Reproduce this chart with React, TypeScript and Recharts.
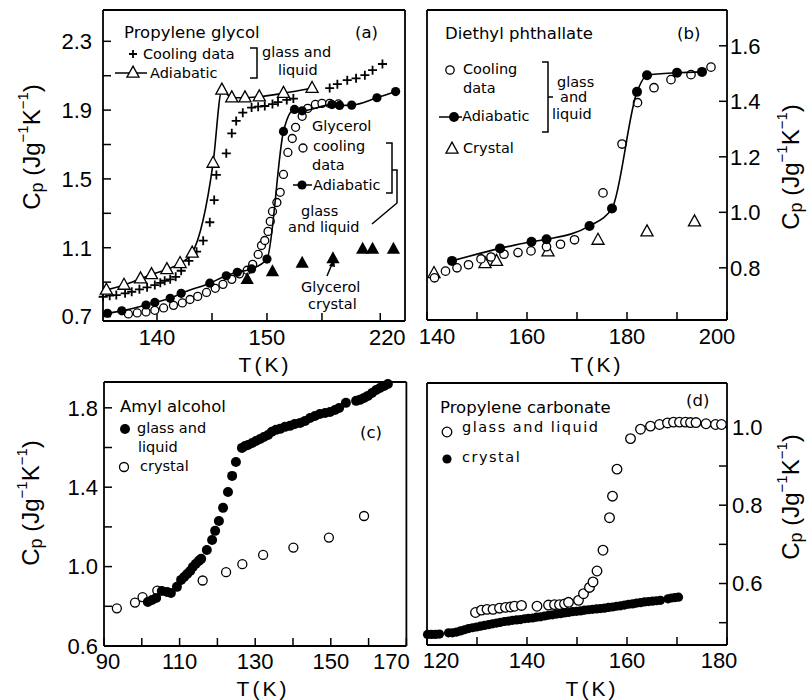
import React from 'react';
import { ComposedChart, Scatter, XAxis, YAxis } from 'recharts';

const FONT = '"DejaVu Sans", sans-serif';
const NUM_FONT = '"Liberation Sans", Arial, sans-serif';

// (a) propylene glycol + glycerol, x in the figure's own axis units
const PG_COOLING = [
  [135.1, 0.815], [135.7, 0.821], [136.3, 0.825], [137.1, 0.835], [137.7, 0.844], [138.4, 0.858],
  [139.1, 0.87], [139.8, 0.883], [140.3, 0.896], [140.7, 0.908], [141.2, 0.916], [141.7, 0.931],
  [142.2, 0.966], [142.9, 1.023], [143.6, 1.077], [144.2, 1.141], [144.8, 1.248], [145.2, 1.377],
  [145.4, 1.523], [146.3, 1.649], [146.8, 1.765], [147.2, 1.837], [147.8, 1.885], [148.6, 1.915],
  [149.2, 1.92], [149.8, 1.924], [150.5, 1.935], [151.0, 1.947], [151.8, 1.959], [152.4, 1.967],
  [155.7, 2.028], [156.4, 2.051], [157.3, 2.074], [158.1, 2.085], [158.9, 2.103], [159.6, 2.132],
  [160.5, 2.168],
];
const PG_ADIABATIC = [
  [135.4, 0.854], [137.0, 0.883], [138.5, 0.92], [139.5, 0.945], [140.9, 0.974], [142.1, 1.009],
  [143.2, 1.07], [145.1, 1.592], [145.9, 2.017], [146.8, 1.972], [148.0, 1.972], [149.3, 1.978],
  [151.5, 1.998], [154.1, 2.027],
];
const GLY_COOLING = [
  [137.4, 0.715], [138.2, 0.721], [139.0, 0.727], [139.8, 0.736], [140.6, 0.75], [141.5, 0.765],
  [142.3, 0.779], [143.0, 0.799], [143.7, 0.817], [144.5, 0.84], [145.3, 0.864], [146.0, 0.887],
  [146.8, 0.916], [147.5, 0.948], [148.2, 0.969], [148.7, 1.003], [149.2, 1.061], [149.5, 1.113],
  [149.8, 1.142], [150.1, 1.195], [150.3, 1.253], [150.5, 1.311], [150.9, 1.363], [151.2, 1.422],
  [151.5, 1.526], [151.9, 1.654], [152.3, 1.735], [152.6, 1.8], [153.2, 1.864], [153.7, 1.91],
  [154.4, 1.933], [155.0, 1.939], [155.7, 1.939], [156.5, 1.936],
];
const GLY_ADIABATIC = [
  [135.5, 0.719], [136.8, 0.733], [139.0, 0.767], [139.8, 0.782], [141.2, 0.806], [142.2, 0.835],
  [144.8, 0.894], [146.3, 0.937], [147.3, 0.957], [148.6, 0.977], [150.0, 1.034], [151.5, 1.776],
  [152.5, 1.904], [153.2, 1.896], [155.9, 1.932], [156.6, 1.927], [157.7, 1.929], [160.0, 1.972],
  [161.7, 2.008],
];
const GLY_CRYSTAL = [
  [148.2, 0.916], [150.5, 0.961], [153.2, 1.01], [156.0, 1.036], [158.7, 1.092], [159.6, 1.092],
  [161.5, 1.092],
];
const A_XTICKS = [140, 145, 150, 155, 160.3];
const A_XLABELS: Record<string, string> = { '140': '140', '150': '150', '160.3': '220' };
const A_YTICKS = [0.7, 0.9, 1.1, 1.3, 1.5, 1.7, 1.9, 2.1, 2.3];
const A_YLABELS = [0.7, 1.1, 1.5, 1.9, 2.3];

// (b) diethyl phthallate
const DEP_COOLING = [
  [141.5, 0.764], [143.7, 0.788], [146.0, 0.8], [148.3, 0.811], [150.8, 0.832], [152.8, 0.839],
  [155.4, 0.849], [158.2, 0.855], [160.8, 0.861], [163.9, 0.876], [166.7, 0.885], [169.5, 0.901],
  [175.2, 1.07], [179.0, 1.246], [182.1, 1.395], [185.4, 1.449], [188.8, 1.478], [192.8, 1.496],
  [196.8, 1.523],
];
const DEP_ADIABATIC = [
  [145.0, 0.825], [154.6, 0.87], [160.9, 0.894], [163.9, 0.903], [172.5, 0.951], [177.0, 1.014],
  [182.0, 1.434], [184.0, 1.494], [190.0, 1.503], [195.0, 1.506],
];
const DEP_CRYSTAL = [
  [141.4, 0.78], [151.6, 0.816], [153.9, 0.824], [164.2, 0.858], [174.2, 0.9], [184.0, 0.93],
  [193.5, 0.966],
];
const B_XTICKS = [140, 150, 160, 170, 180, 190, 200];
const B_XLABELS = [140, 160, 180, 200];
const B_YTICKS = [0.8, 1.0, 1.2, 1.4, 1.6];

// (c) amyl alcohol
const AA_LIQUID = [
  [101.6, 0.822], [102.7, 0.832], [103.8, 0.842], [105.3, 0.877], [106.7, 0.872], [107.7, 0.867],
  [109.3, 0.898], [110.4, 0.933], [111.2, 0.948], [112.0, 0.963], [112.8, 0.978], [113.5, 0.998],
  [114.3, 1.014], [115.1, 1.029], [115.7, 1.039], [117.2, 1.084], [118.6, 1.134], [119.4, 1.18],
  [120.4, 1.23], [121.5, 1.296], [122.8, 1.376], [123.9, 1.457], [124.9, 1.527], [126.5, 1.598],
  [127.3, 1.608], [128.1, 1.613], [129.2, 1.623], [130.2, 1.633], [131.3, 1.643], [132.3, 1.653],
  [133.4, 1.663], [134.4, 1.679], [135.5, 1.689], [136.6, 1.694], [137.9, 1.704], [139.2, 1.709],
  [140.5, 1.719], [141.9, 1.724], [143.2, 1.734], [144.5, 1.749], [145.8, 1.759], [147.1, 1.769],
  [148.5, 1.774], [149.8, 1.779], [151.1, 1.789], [152.2, 1.799], [154.0, 1.825], [156.7, 1.835],
  [157.7, 1.84], [158.8, 1.85], [159.8, 1.86], [160.9, 1.875], [162.0, 1.89], [163.0, 1.9],
  [164.1, 1.91], [165.1, 1.92],
];
const AA_CRYSTAL = [
  [93.4, 0.79], [98.2, 0.819], [100.2, 0.846], [104.1, 0.879], [116.1, 0.93], [122.3, 0.972],
  [126.6, 1.012], [132.1, 1.059], [140.1, 1.096], [149.5, 1.146], [158.8, 1.255],
];
const C_XTICKS = [90, 100, 110, 120, 130, 140, 150, 160, 170];
const C_XLABELS = [90, 110, 130, 150, 170];
const C_YTICKS = [0.6, 0.8, 1.0, 1.2, 1.4, 1.6, 1.8];
const C_YLABELS = [0.6, 1.0, 1.4, 1.8];

// (d) propylene carbonate
const PC_LIQUID = [
  [129.7, 0.526], [130.9, 0.532], [132.0, 0.534], [133.2, 0.534], [134.5, 0.537], [135.7, 0.539],
  [136.7, 0.54], [137.5, 0.542], [138.9, 0.544], [142.0, 0.542], [144.3, 0.545], [145.5, 0.546],
  [146.5, 0.546], [147.5, 0.548], [148.3, 0.552], [150.3, 0.557], [151.3, 0.574], [152.5, 0.59],
  [153.2, 0.604], [154.0, 0.632], [155.2, 0.685], [156.5, 0.768], [157.1, 0.823], [158.0, 0.892],
  [160.7, 0.97], [162.7, 0.994], [164.7, 1.002], [166.5, 1.006], [168.1, 1.01], [169.3, 1.012],
  [170.5, 1.012], [171.7, 1.012], [172.7, 1.011], [173.8, 1.011], [175.8, 1.008], [177.7, 1.006],
  [178.9, 1.006],
];
const PC_CRYSTAL = [
  [120.1, 0.47], [120.9, 0.47], [121.7, 0.47], [122.5, 0.471], [124.3, 0.474], [125.1, 0.474],
  [125.9, 0.476], [126.7, 0.479], [127.5, 0.482], [128.3, 0.485], [129.1, 0.487], [129.9, 0.489],
  [130.7, 0.491], [131.5, 0.493], [132.3, 0.495], [133.1, 0.497], [133.9, 0.499], [134.7, 0.501],
  [135.5, 0.503], [136.3, 0.504], [137.1, 0.506], [137.9, 0.507], [138.7, 0.508], [139.5, 0.51],
  [140.3, 0.511], [141.1, 0.512], [141.9, 0.514], [142.7, 0.515], [143.5, 0.517], [144.3, 0.519],
  [145.1, 0.52], [145.9, 0.522], [146.7, 0.523], [147.5, 0.525], [148.3, 0.526], [149.1, 0.528],
  [149.9, 0.529], [150.7, 0.53], [151.5, 0.532], [152.3, 0.533], [153.1, 0.534], [153.9, 0.535],
  [154.7, 0.536], [155.5, 0.537], [156.3, 0.539], [157.1, 0.54], [157.9, 0.542], [158.7, 0.543],
  [159.5, 0.545], [160.3, 0.547], [161.1, 0.548], [161.9, 0.55], [162.7, 0.551], [163.5, 0.553],
  [164.3, 0.554], [165.1, 0.555], [165.9, 0.556], [166.7, 0.557], [168.2, 0.561], [168.9, 0.563],
  [169.6, 0.564], [170.3, 0.565],
];
const D_XTICKS = [120, 130, 140, 150, 160, 170, 180];
const D_XLABELS = [120, 140, 160, 180];
const D_YTICKS = [0.5, 0.6, 0.7, 0.8, 0.9, 1.0];
const D_YLABELS = [0.6, 0.8, 1.0];

const pts = (a: number[][]) => a.map(([t, cp]) => ({ t, cp }));
const near = (list: number[], v: number) => list.some((l) => Math.abs(l - v) < 1e-6);

type P = { cx?: number; cy?: number };
const openCircle = (r: number) => (p: P) => (
  <circle cx={p.cx} cy={p.cy} r={r} fill="#fff" stroke="#000" strokeWidth={1.3} />
);
const dot = (r: number) => (p: P) => <circle cx={p.cx} cy={p.cy} r={r} fill="#000" />;
const triPath = (x: number, y: number, s: number) =>
  `M${x},${y - s * 0.62} L${x + s * 0.55},${y + s * 0.38} L${x - s * 0.55},${y + s * 0.38} Z`;
const openTri = (s: number) => (p: P) => (
  <path d={triPath(p.cx ?? 0, p.cy ?? 0, s)} fill="#fff" stroke="#000" strokeWidth={1.3} />
);
const fillTri = (s: number) => (p: P) => <path d={triPath(p.cx ?? 0, p.cy ?? 0, s)} fill="#000" />;
const plus = (s: number) => (p: P) => (
  <path
    d={`M${(p.cx ?? 0) - s},${p.cy} H${(p.cx ?? 0) + s} M${p.cx},${(p.cy ?? 0) - s} V${(p.cy ?? 0) + s}`}
    stroke="#000"
    strokeWidth={1.8}
  />
);

const AX = { stroke: '#000', strokeWidth: 1.8 };
const TL = { stroke: '#000', strokeWidth: 1.5 };
const TICK = { fill: '#000', fontSize: 22, fontFamily: NUM_FONT };
const CURVE = { stroke: '#000', strokeWidth: 1.6 };

// bottom tick label, nudged inward where the reference shifts it
function XTick(props: any) {
  const { x, y, payload, fmt, nudge } = props;
  const label = fmt(payload.value);
  if (!label) return null;
  const dx = nudge[label] ?? 0;
  return (
    <text x={x + dx} y={y} dy="0.72em" textAnchor="middle" fontSize={22} fontFamily={NUM_FONT} fill="#000">
      {label}
    </text>
  );
}

interface PanelProps {
  box: [number, number, number, number];
  xDomain: [number, number];
  xTicks: number[];
  xFmt: (v: number) => string;
  nudge: Record<string, number>;
  xGap: number;
  yDomain: [number, number];
  yTicks: number[];
  yFmt: (v: number) => string;
  yGap: number;
  ySide: 'left' | 'right';
  children: React.ReactNode;
}

function Panel({ box, xDomain, xTicks, xFmt, nudge, xGap, yDomain, yTicks, yFmt, yGap, ySide, children }: PanelProps) {
  const [x0, y0, x1, y1] = box;
  const w = x1 - x0 + 120;
  const h = y1 - y0 + 50;
  return (
    <div style={{ position: 'absolute', left: x0 - 60, top: y0 - 10 }}>
      <ComposedChart width={w} height={h} margin={{ top: 5, right: 10, bottom: 10, left: 10 }}>
        <XAxis xAxisId="b" type="number" dataKey="t" domain={xDomain} ticks={xTicks} interval={0}
          tickSize={-8} tickMargin={xGap + 8} height={30} axisLine={AX} tickLine={TL}
          tick={(p: any) => <XTick {...p} fmt={xFmt} nudge={nudge} />} />
        <XAxis xAxisId="t" orientation="top" type="number" domain={xDomain} ticks={xTicks} interval={0}
          tickFormatter={() => ''} tickSize={-8} height={5} axisLine={AX} tickLine={TL} tick={TICK} />
        <YAxis yAxisId="y" orientation={ySide} type="number" dataKey="cp" domain={yDomain} ticks={yTicks}
          interval={0} tickFormatter={yFmt} tickSize={-8} tickMargin={yGap + 8} width={50}
          axisLine={AX} tickLine={TL} tick={TICK} />
        <YAxis yAxisId="y2" orientation={ySide === 'left' ? 'right' : 'left'} type="number" domain={yDomain}
          ticks={yTicks} interval={0} tickFormatter={() => ''} tickSize={-8} width={50}
          axisLine={AX} tickLine={TL} tick={TICK} />
        {children}
      </ComposedChart>
    </div>
  );
}

function Txt({ x, y, children, size = 14.5, ls = 0 }: { x: number; y: number; children: React.ReactNode; size?: number; ls?: number }) {
  return (
    <text x={x} y={y} fontSize={size} letterSpacing={ls} dominantBaseline="central" fill="#000">
      {children}
    </text>
  );
}

function CpTitle({ x, y }: { x: number; y: number }) {
  return (
    <text transform={`translate(${x},${y}) rotate(-90)`} textAnchor="middle" fontSize={24}
      fontFamily={NUM_FONT} dominantBaseline="central" fill="#000">
      C<tspan fontSize={18} dy={6}>p</tspan>
      <tspan dy={-6}> (Jg</tspan>
      <tspan fontSize={15} dy={-9}>−1</tspan>
      <tspan dy={9}>K</tspan>
      <tspan fontSize={15} dy={-9}>−1</tspan>
      <tspan dy={9}>)</tspan>
    </text>
  );
}

function TK({ x, y }: { x: number; y: number }) {
  return (
    <text x={x} y={y} textAnchor="middle" fontSize={21} fontFamily={NUM_FONT} letterSpacing={3}
      dominantBaseline="central" fill="#000">
      T(K)
    </text>
  );
}

const fmtList = (list: number[], digits: number) => (v: number) => (near(list, v) ? v.toFixed(digits) : '');

export default function App() {
  const s = { isAnimationActive: false, xAxisId: 'b', yAxisId: 'y' } as const;
  return (
    <div style={{ position: 'absolute', left: 0, top: 0, width: 808, height: 700, background: '#fff', fontFamily: FONT }}>
      <Panel box={[103, 10, 405, 321]} xDomain={[135.09, 162.55]} xTicks={A_XTICKS}
        xFmt={(v) => A_XLABELS[String(v)] ?? ''} nudge={{ '220': 7 }} xGap={8}
        yDomain={[0.674, 2.482]} yTicks={A_YTICKS} yFmt={fmtList(A_YLABELS, 1)} yGap={11} ySide="left">
        <Scatter {...s} data={pts(PG_COOLING)} shape={plus(4.5)} />
        <Scatter {...s} data={pts(PG_ADIABATIC)} shape={openTri(11)} line={CURVE} lineJointType="monotoneX" />
        <Scatter {...s} data={pts(GLY_COOLING)} shape={openCircle(4)} />
        <Scatter {...s} data={pts(GLY_CRYSTAL)} shape={fillTri(12)} />
        <Scatter {...s} data={pts(GLY_ADIABATIC)} shape={dot(4.6)} line={CURVE} lineJointType="monotoneX" />
      </Panel>
      <Panel box={[426.5, 10, 726.5, 320]} xDomain={[140, 200]} xTicks={B_XTICKS}
        xFmt={fmtList(B_XLABELS, 0)} nudge={{ '140': 10, '200': -10 }} xGap={8}
        yDomain={[0.612, 1.729]} yTicks={B_YTICKS} yFmt={(v) => v.toFixed(1)} yGap={3} ySide="right">
        <Scatter {...s} data={pts(DEP_CRYSTAL)} shape={openTri(11)} />
        <Scatter {...s} data={pts(DEP_COOLING)} shape={openCircle(4.2)} />
        <Scatter {...s} data={pts(DEP_ADIABATIC)} shape={dot(5)} line={CURVE} lineJointType="monotoneX" />
      </Panel>
      <Panel box={[104, 382, 406.4, 646]} xDomain={[90, 170]} xTicks={C_XTICKS}
        xFmt={fmtList(C_XLABELS, 0)} nudge={{ '90': 4, '170': -15 }} xGap={7}
        yDomain={[0.6, 1.93]} yTicks={C_YTICKS} yFmt={fmtList(C_YLABELS, 1)} yGap={6} ySide="left">
        <Scatter {...s} data={pts(AA_CRYSTAL)} shape={openCircle(4.5)} />
        <Scatter {...s} data={pts(AA_LIQUID)} shape={dot(5)} />
      </Panel>
      <Panel box={[426.7, 383, 726.7, 645]} xDomain={[120, 180]} xTicks={D_XTICKS}
        xFmt={fmtList(D_XLABELS, 0)} nudge={{ '120': 14, '180': -8 }} xGap={7}
        yDomain={[0.443, 1.112]} yTicks={D_YTICKS} yFmt={fmtList(D_YLABELS, 1)} yGap={5} ySide="right">
        <Scatter {...s} data={pts(PC_LIQUID)} shape={openCircle(4.8)} />
        <Scatter {...s} data={pts(PC_CRYSTAL)} shape={dot(4.6)} />
      </Panel>

      <svg width={808} height={700} style={{ position: 'absolute', left: 0, top: 0, pointerEvents: 'none', fontFamily: FONT }}>
        {/* (a) */}
        <Txt x={124} y={32} size={16.5}>Propylene glycol</Txt>
        <Txt x={355} y={32} size={16.5}>(a)</Txt>
        {plus(4)({ cx: 133, cy: 54 })}
        <Txt x={143} y={54}>Cooling data</Txt>
        <path d="M115,73 H147" stroke="#000" strokeWidth={1.5} />
        {openTri(11)({ cx: 133, cy: 73 })}
        <Txt x={150} y={73}>Adiabatic</Txt>
        <path d="M250,48 H257 V78 H250" stroke="#000" strokeWidth={1.5} fill="none" />
        <Txt x={262} y={52}>glass and</Txt>
        <Txt x={278} y={70}>liquid</Txt>
        <Txt x={312} y={126}>Glycerol</Txt>
        {openCircle(4)({ cx: 303, cy: 148 })}
        <Txt x={313} y={146}>cooling</Txt>
        <Txt x={312} y={165}>data</Txt>
        <path d="M293,185 H312" stroke="#000" strokeWidth={1.5} />
        {dot(4.6)({ cx: 302, cy: 185 })}
        <Txt x={313} y={185}>Adiabatic</Txt>
        <path d="M386,143 H392 V193 H386" stroke="#000" strokeWidth={1.5} fill="none" />
        <path d="M392,170 H397 V203 L372,224" stroke="#000" strokeWidth={1.5} fill="none" />
        <Txt x={301} y={211}>glass</Txt>
        <Txt x={288} y={227}>and liquid</Txt>
        <Txt x={301} y={287}>Glycerol</Txt>
        <Txt x={308} y={304}>crystal</Txt>
        <path d="M327,276 L332,264" stroke="#000" strokeWidth={1.5} />
        <path d="M334,259 L329,266 L335,267 Z" fill="#000" />
        <CpTitle x={31} y={147} />
        <TK x={265} y={364} />

        {/* (b) */}
        <Txt x={445} y={33} size={16.5}>Diethyl phthallate</Txt>
        <Txt x={677} y={33} size={16.5}>(b)</Txt>
        {openCircle(4.2)({ cx: 450, cy: 70 })}
        <Txt x={463} y={69}>Cooling</Txt>
        <Txt x={463} y={88}>data</Txt>
        <path d="M439,117 H462" stroke="#000" strokeWidth={1.5} />
        {dot(5)({ cx: 454, cy: 117 })}
        <Txt x={462} y={116}>Adiabatic</Txt>
        <path d="M542,62 H548 V132 H542 M548,97 H553" stroke="#000" strokeWidth={1.5} fill="none" />
        <Txt x={557} y={82}>glass</Txt>
        <Txt x={560} y={97}>and</Txt>
        <Txt x={552} y={114}>liquid</Txt>
        {openTri(11)({ cx: 452, cy: 149 })}
        <Txt x={463} y={148}>Crystal</Txt>
        <CpTitle x={790} y={167} />
        <TK x={597} y={364} />

        {/* (c) */}
        <Txt x={120} y={406} size={16.5}>Amyl alcohol</Txt>
        {dot(5)({ cx: 125, cy: 429 })}
        <Txt x={137} y={428}>glass and</Txt>
        <Txt x={138} y={447}>liquid</Txt>
        {openCircle(4.5)({ cx: 124, cy: 467 })}
        <Txt x={140} y={466}>crystal</Txt>
        <Txt x={360} y={432} size={16.5}>(c)</Txt>
        <CpTitle x={30} y={503} />
        <TK x={263} y={688} />

        {/* (d) */}
        <Txt x={440} y={407} size={16.5}>Propylene carbonate</Txt>
        <Txt x={686} y={400} size={16.5}>(d)</Txt>
        {openCircle(4.8)({ cx: 447, cy: 432 })}
        <Txt x={462} y={427} ls={1.5}>glass and liquid</Txt>
        {dot(4.6)({ cx: 447, cy: 459 })}
        <Txt x={462} y={457} ls={1.5}>crystal</Txt>
        <CpTitle x={790} y={497} />
        <TK x={592} y={688} />
      </svg>
    </div>
  );
}
